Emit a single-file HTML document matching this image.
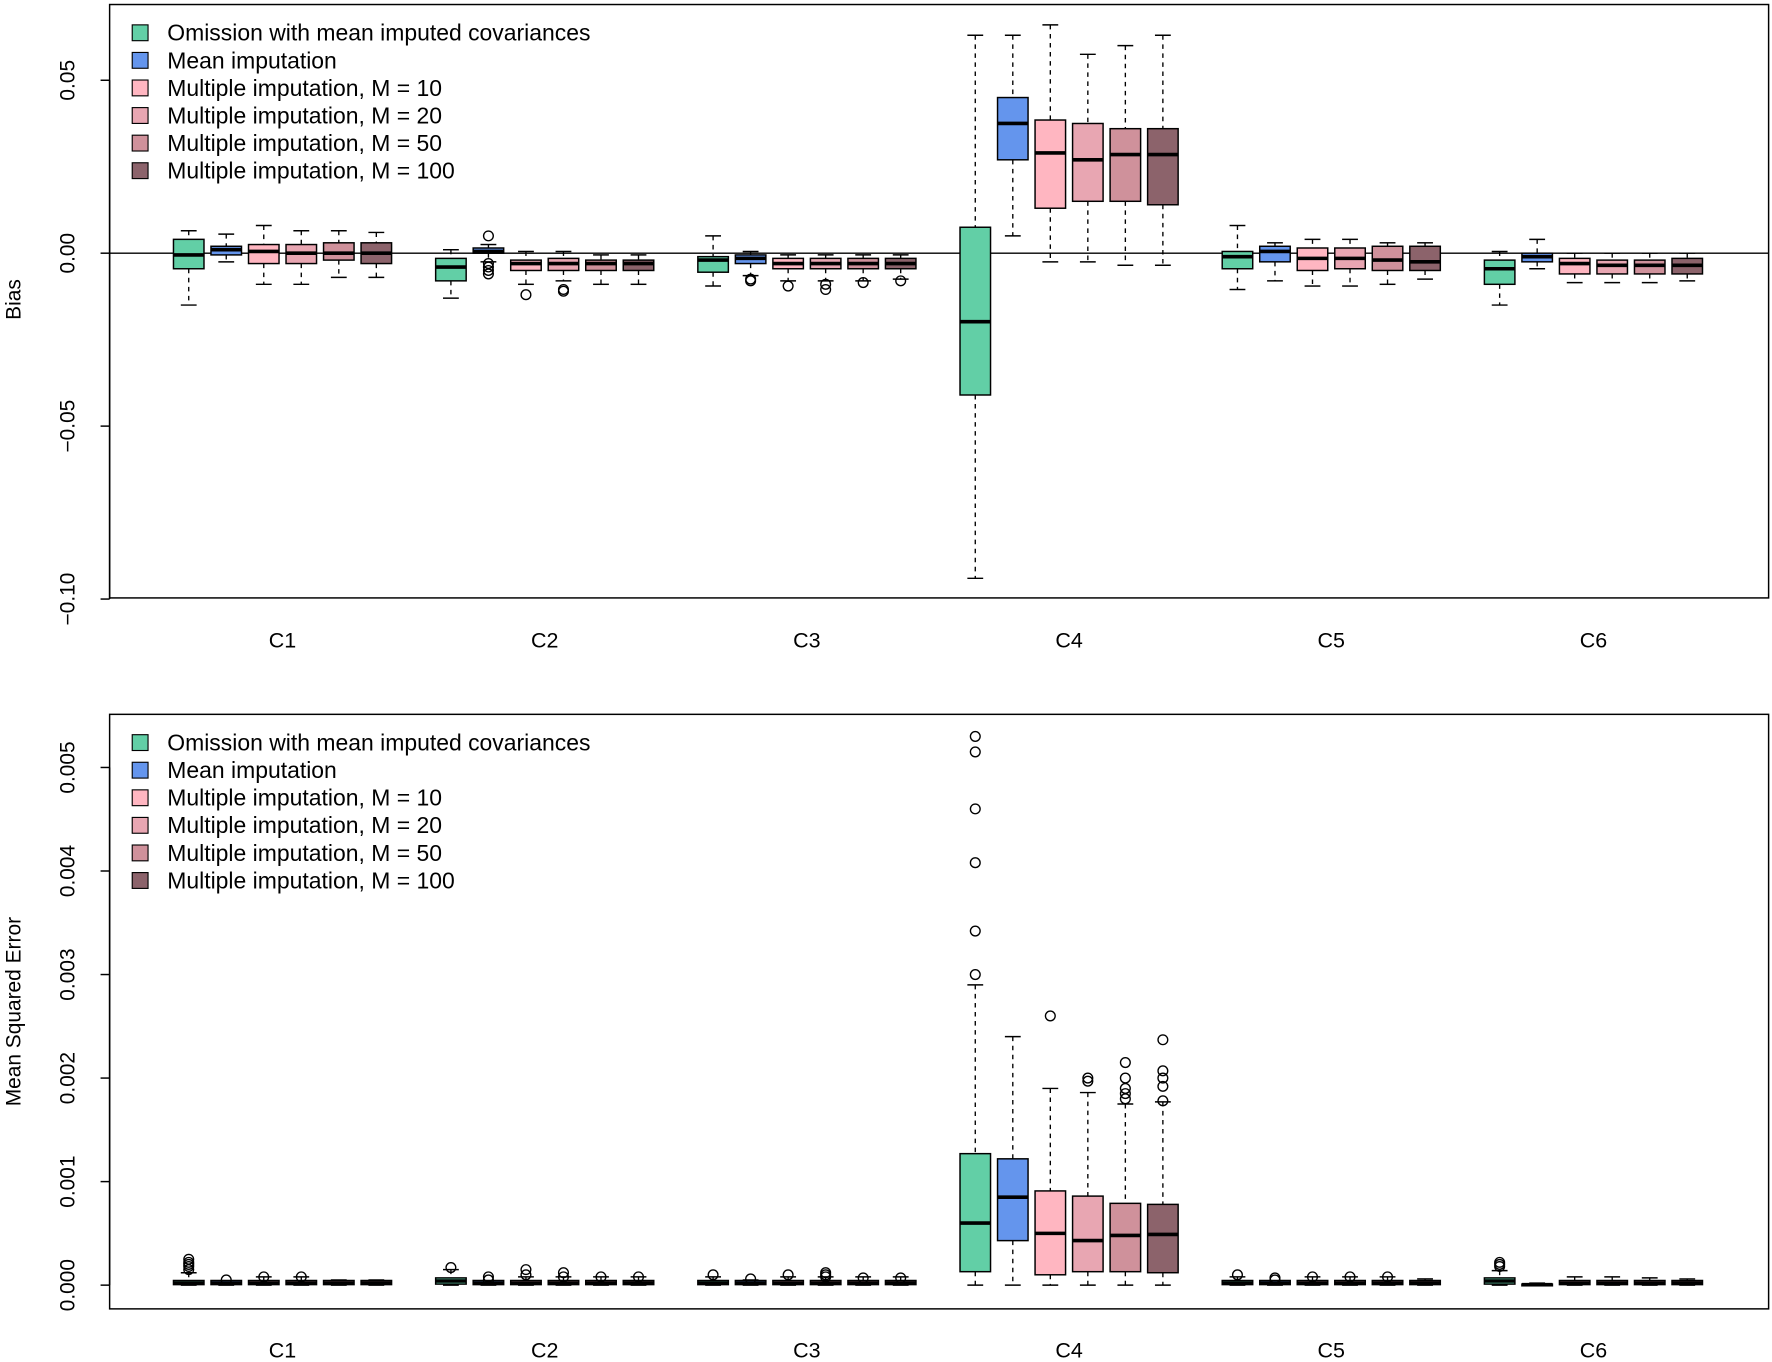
<!DOCTYPE html>
<html><head><meta charset="utf-8"><style>html,body{margin:0;padding:0;background:#fff}svg{display:block}</style></head>
<body>
<svg id="s" width="1772" height="1362" viewBox="0 0 1568 1205" preserveAspectRatio="none" xmlns="http://www.w3.org/2000/svg" font-family="Liberation Sans, Arial, sans-serif"></svg>
<script>
(function(){
const cols=["#62CFA6","#6495ED","#FFB6C1","#E8A6B2","#CF919B","#8C636B"];
const names=["Omission with mean imputed covariances","Mean imputation","Multiple imputation, M = 10","Multiple imputation, M = 20","Multiple imputation, M = 50","Multiple imputation, M = 100"];
const centers=[250,482,714,946,1178,1410];
let o='';
function box(x,Y,d,fill){
  const w=27,h=x-w/2;
  o+=`<line x1="${x}" y1="${Y(d[4])}" x2="${x}" y2="${Y(d[3])}" stroke="#000" stroke-dasharray="4,4" stroke-width="1.2"/>`;
  o+=`<line x1="${x}" y1="${Y(d[1])}" x2="${x}" y2="${Y(d[0])}" stroke="#000" stroke-dasharray="4,4" stroke-width="1.2"/>`;
  o+=`<line x1="${x-7}" y1="${Y(d[4])}" x2="${x+7}" y2="${Y(d[4])}" stroke="#000" stroke-width="1.3"/>`;
  o+=`<line x1="${x-7}" y1="${Y(d[0])}" x2="${x+7}" y2="${Y(d[0])}" stroke="#000" stroke-width="1.3"/>`;
  const t=Y(d[3]),b=Y(d[1]);
  o+=`<rect x="${h}" y="${t}" width="${w}" height="${Math.max(b-t,1.5)}" fill="${fill}" stroke="#000" stroke-width="1.3"/>`;
  o+=`<line x1="${h}" y1="${Y(d[2])}" x2="${h+w}" y2="${Y(d[2])}" stroke="#000" stroke-width="3.2"/>`;
  (d[5]||[]).forEach(v=>{o+=`<circle cx="${x}" cy="${Y(v)}" r="4.3" fill="none" stroke="#000" stroke-width="1.2"/>`;});
}
function panel(y0,y1,yf,ticks,lab,laby,data,labY){
  o+=`<rect x="97" y="${y0}" width="1468" height="${y1-y0}" fill="none" stroke="#000" stroke-width="1.3"/>`;
  const ty=ticks.map(t=>yf(t[0]));
  o+=`<line x1="97" y1="${Math.min(...ty)}" x2="97" y2="${Math.max(...ty)}" stroke="#000" stroke-width="1.3"/>`;
  ticks.forEach(t=>{const yy=yf(t[0]);o+=`<line x1="89" y1="${yy}" x2="97" y2="${yy}" stroke="#000" stroke-width="1.3"/><text x="66" y="${yy}" font-size="18.5" text-anchor="middle" transform="rotate(-90 66 ${yy})">${t[1]}</text>`;});
  o+=`<text x="18" y="${laby}" font-size="18.5" text-anchor="middle" transform="rotate(-90 18 ${laby})">${lab}</text>`;
  centers.forEach((c,i)=>{o+=`<text x="${c}" y="${labY}" font-size="19" text-anchor="middle">C${i+1}</text>`;
    for(let k=0;k<6;k++) box(c+(k-2.5)*33.2,yf,data[i][k],cols[k]);});
  names.forEach((n,k)=>{const yy=y0+25+k*24.4;o+=`<rect x="117" y="${yy-7}" width="14" height="14" fill="${cols[k]}" stroke="#000" stroke-width="1"/><text x="148" y="${yy+7}" font-size="20.3">${n}</text>`;});
}
const yb=v=>224-v*3060;
o+=`<line x1="97" y1="224" x2="1565" y2="224" stroke="#000" stroke-width="1.3"/>`;
const topData=[
[[-0.015,-0.0045,-0.0005,0.004,0.0065],[-0.0025,-0.0005,0.001,0.002,0.0055],[-0.009,-0.003,0.0005,0.0025,0.008],[-0.009,-0.003,0,0.0025,0.0065],[-0.007,-0.002,0,0.003,0.0065],[-0.007,-0.003,0,0.003,0.006]],
[[-0.013,-0.008,-0.004,-0.0015,0.001],[-0.0025,0,0.0005,0.0015,0.0025,[0.005,-0.003,-0.004,-0.005,-0.006]],[-0.009,-0.005,-0.003,-0.002,0.0005,[-0.012]],[-0.008,-0.005,-0.003,-0.0015,0.0005,[-0.0105,-0.011]],[-0.009,-0.005,-0.003,-0.002,-0.0005],[-0.009,-0.005,-0.003,-0.002,-0.0005]],
[[-0.0095,-0.0055,-0.002,-0.001,0.005],[-0.0065,-0.003,-0.0015,-0.0005,0.0005,[-0.0075,-0.008]],[-0.008,-0.0045,-0.003,-0.0015,-0.0005,[-0.0095]],[-0.008,-0.0045,-0.003,-0.0015,-0.0005,[-0.009,-0.0105]],[-0.008,-0.0045,-0.003,-0.0015,-0.0005,[-0.0085]],[-0.0075,-0.0045,-0.003,-0.0015,-0.0005,[-0.008]]],
[[-0.094,-0.041,-0.0198,0.0075,0.063],[0.005,0.027,0.0375,0.045,0.063],[-0.0025,0.013,0.029,0.0385,0.066],[-0.0025,0.015,0.027,0.0375,0.0575],[-0.0035,0.015,0.0285,0.036,0.06],[-0.0035,0.014,0.0285,0.036,0.063]],
[[-0.0105,-0.0045,-0.001,0.0005,0.008],[-0.008,-0.0025,0.0005,0.002,0.003],[-0.0095,-0.005,-0.0015,0.0015,0.004],[-0.0095,-0.0045,-0.0015,0.0015,0.004],[-0.009,-0.005,-0.002,0.002,0.003],[-0.0075,-0.005,-0.0025,0.002,0.003]],
[[-0.015,-0.009,-0.0045,-0.002,0.0005],[-0.0045,-0.0025,-0.001,0,0.004],[-0.0085,-0.006,-0.003,-0.0015,0],[-0.0085,-0.006,-0.0035,-0.002,0],[-0.0085,-0.006,-0.0035,-0.002,0],[-0.008,-0.006,-0.0035,-0.0015,0]]];
panel(4,529,yb,[[0.05,"0.05"],[0,"0.00"],[-0.05,"−0.05"],[-0.1,"−0.10"]],"Bias",265,topData,573);
const ym=v=>1137-v*91.6;
const sm=(o1,w)=>[0,0.005,0.02,0.045,w||0.08,o1||[]];
const botData=[
[sm([0.15,0.18,0.2,0.22,0.25],0.12),sm([0.05],0.04),sm([0.08]),sm([0.08]),sm([],0.05),sm([],0.05)],
[[0,0.01,0.04,0.07,0.15,[0.17]],sm([0.05,0.08],0.04),sm([0.1,0.15]),sm([0.08,0.12]),sm([0.08]),sm([0.08])],
[sm([0.1]),sm([0.06],0.05),sm([0.1]),sm([0.08,0.1,0.12]),sm([0.07]),sm([0.07])],
[[0,0.13,0.6,1.27,2.9,[3.0,3.42,4.08,4.6,5.15,5.3]],[0,0.43,0.85,1.22,2.4],[0,0.1,0.5,0.91,1.9,[2.6]],[0,0.13,0.43,0.86,1.86,[1.97,2.0]],[0,0.13,0.48,0.79,1.75,[1.8,1.85,1.9,2.0,2.15]],[0,0.12,0.49,0.78,1.77,[1.78,1.92,2.0,2.07,2.37]]],
[sm([0.1]),sm([0.05,0.07],0.04),sm([0.08]),sm([0.08]),sm([0.08]),sm([],0.06)],
[[0,0.01,0.04,0.07,0.14,[0.18,0.2,0.22]],[0,0,0.005,0.01,0.02],sm([],0.08),sm([],0.08),sm([],0.07),sm([],0.06)]];
panel(632,1158,ym,[[0,"0.000"],[1,"0.001"],[2,"0.002"],[3,"0.003"],[4,"0.004"],[5,"0.005"]],"Mean Squared Error",895,botData,1201);
document.getElementById('s').innerHTML=o;
})();
</script>
</body></html>
